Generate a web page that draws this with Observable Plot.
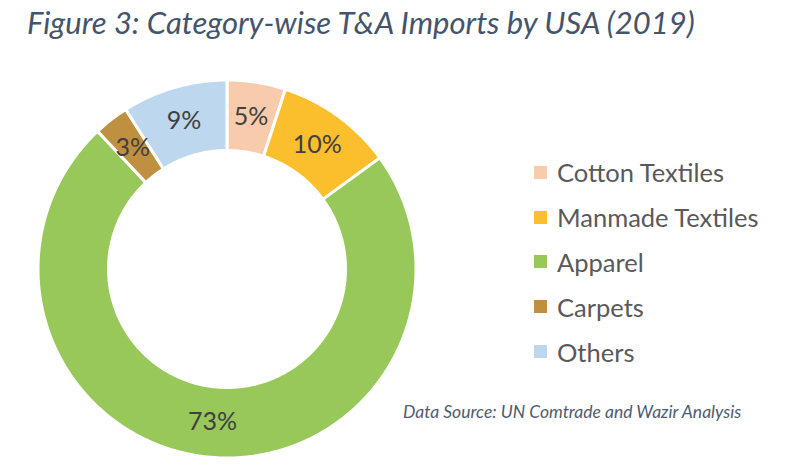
<!DOCTYPE html>
<html><head><meta charset="utf-8">
<script src="https://cdn.jsdelivr.net/npm/d3@7"></script>
<script src="https://cdn.jsdelivr.net/npm/@observablehq/plot@0.6"></script>
<style>
html,body{margin:0;padding:0;background:#fff;}
body{width:800px;height:473px;overflow:hidden;position:relative;font-family:Lato,"Open Sans",sans-serif;}
#chart{position:absolute;left:0;top:0;}
#title{position:absolute;left:27px;top:3px;font-style:italic;font-size:31px;color:#44546A;white-space:nowrap;}
#legend{position:absolute;left:534px;top:150px;}
.row{display:flex;align-items:center;height:44.8px;font-size:25.5px;color:#595959;white-space:nowrap;}
.sw{width:13px;height:13px;margin-right:10px;}
#caption{position:absolute;left:403px;top:401px;font-style:italic;font-size:17.5px;color:#4F5B6E;white-space:nowrap;}
</style></head><body>
<div id="chart"></div>
<div id="title">Figure 3: Category-wise T&amp;A Imports by USA (2019)</div>
<div id="legend"></div>
<div id="caption">Data Source: UN Comtrade and Wazir Analysis</div>
<script>
const categories = ["Cotton Textiles", "Manmade Textiles", "Apparel", "Carpets", "Others"];
const shares = [5, 10, 73, 3, 9];
const labels = ["5%", "10%", "73%", "3%", "9%"];
const colors = ["#F8CBAD", "#FBBF2E", "#98C85A", "#BF9040", "#BDD7EE"];

const rOuter = 1.008, rInner = 0.632, rLabel = 0.82;
const total = d3.sum(shares);
const rows = [], labelRows = [];
let cum = 0;
categories.forEach((cat, i) => {
  const a0 = cum / total * 2 * Math.PI;
  cum += shares[i];
  const a1 = cum / total * 2 * Math.PI;
  const n = Math.max(4, Math.ceil((a1 - a0) * 180 / Math.PI));
  for (let k = 0; k <= n; k++) {
    const a = a0 + (a1 - a0) * k / n;
    rows.push({cat, u: rOuter * Math.sin(a), v: rOuter * Math.cos(a)});
  }
  for (let k = n; k >= 0; k--) {
    const a = a0 + (a1 - a0) * k / n;
    rows.push({cat, u: rInner * Math.sin(a), v: rInner * Math.cos(a)});
  }
  const am = (a0 + a1) / 2;
  labelRows.push({cat, label: labels[i], u: rLabel * Math.sin(am), v: rLabel * Math.cos(am)});
});

const chart = Plot.plot({
  width: 800, height: 473,
  marginLeft: 39, marginRight: 386, marginTop: 81, marginBottom: 17,
  x: {domain: [-1, 1], axis: null},
  y: {domain: [-1, 1], axis: null},
  color: {domain: categories, range: colors},
  style: {background: "transparent"},
  marks: [
    Plot.line(rows, {x: "u", y: "v", z: "cat", fill: "cat", stroke: "white", strokeWidth: 3, curve: "linear-closed"}),
    Plot.text(labelRows, {x: "u", y: "v", text: "label", fontSize: 25, fill: "#404040", fontFamily: "Lato"})
  ]
});
document.getElementById("chart").appendChild(chart);

const legend = document.getElementById("legend");
categories.forEach((c, i) => {
  const row = document.createElement("div");
  row.className = "row";
  const sw = document.createElement("div");
  sw.className = "sw";
  sw.style.background = colors[i];
  const t = document.createElement("span");
  t.textContent = c;
  row.appendChild(sw); row.appendChild(t);
  legend.appendChild(row);
});
</script>
</body></html>
